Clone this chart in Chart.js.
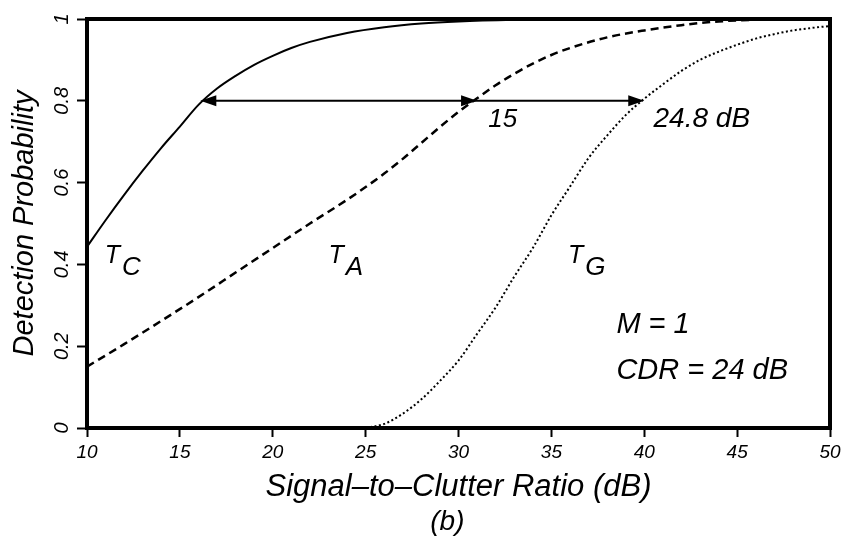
<!DOCTYPE html>
<html>
<head>
<meta charset="utf-8">
<script src="https://cdn.jsdelivr.net/npm/chart.js@4/dist/chart.umd.min.js"></script>
<style>
  html, body { margin:0; padding:0; background:#fff; }
</style>
</head>
<body>
<canvas id="pd" width="847" height="538"></canvas>
<script>
// detection probability vs signal-to-clutter ratio, M = 1, CDR = 24 dB
const snrTC = [10, 11, 12, 13, 14, 15, 16, 17, 18, 19, 20, 21, 22, 24, 26, 28, 30, 33, 36, 40, 45, 50];
const pdTC  = [0.443, 0.508, 0.57, 0.629, 0.685, 0.737, 0.79, 0.83, 0.861, 0.888, 0.91, 0.929, 0.944, 0.966, 0.98, 0.989, 0.994, 0.998, 1, 1, 1, 1];

const snrTA = [10, 12, 14, 16, 18, 20, 22, 24, 25, 26, 27, 28, 29, 30, 31, 32, 33, 34, 35, 36, 38, 40, 42, 44, 46, 48, 50];
const pdTA  = [0.15, 0.205, 0.262, 0.32, 0.38, 0.44, 0.5, 0.558, 0.589, 0.622, 0.658, 0.697, 0.736, 0.773, 0.806, 0.838, 0.866, 0.891, 0.912, 0.929, 0.955, 0.972, 0.985, 0.994, 0.998, 1, 1];

const snrTG = [25, 26, 27, 28, 29, 30, 31, 32, 33, 34, 35, 36, 37, 38, 39, 40, 41, 42, 43, 44, 45, 46, 47, 48, 49, 50];
const pdTG  = [0, 0.01, 0.035, 0.07, 0.115, 0.165, 0.23, 0.295, 0.37, 0.44, 0.52, 0.59, 0.66, 0.715, 0.765, 0.805, 0.84, 0.873, 0.9, 0.92, 0.937, 0.952, 0.963, 0.972, 0.978, 0.983];

const xTicks = [10, 15, 20, 25, 30, 35, 40, 45, 50];
const yTicks = [0, 0.2, 0.4, 0.6, 0.8, 1];

// horizontal gain arrow at Pd = 0.8: T_C -> T_A -> T_G
const arrowPd = 0.8;
const arrowSnr = [16.1, 31, 40];

const FONT = '"Liberation Sans", Arial, sans-serif';
const pts = (xs, ys) => xs.map((x, i) => ({ x, y: ys[i] }));

function arrowHead(ctx, x, y, dir){
  ctx.beginPath();
  ctx.moveTo(x, y);
  ctx.lineTo(x - dir*16, y - 5.5);
  ctx.lineTo(x - dir*16, y + 5.5);
  ctx.closePath();
  ctx.fill();
}

// "T" with a subscript letter, e.g. T_A
function sub(ctx, main, s, x, y){
  ctx.font = 'italic 25px ' + FONT;
  ctx.textAlign = 'left';
  ctx.textBaseline = 'alphabetic';
  ctx.fillText(main, x, y);
  const w = ctx.measureText(main).width;
  ctx.font = 'italic 26px ' + FONT;
  ctx.fillText(s, x + w + 2, y + 12);
}

const extras = {
  id: 'extras',
  afterDatasetsDraw(chart){
    const { ctx, chartArea: a, scales: { x, y } } = chart;
    ctx.save();
    ctx.fillStyle = '#000';
    ctx.strokeStyle = '#000';

    // frame
    ctx.lineWidth = 4;
    ctx.strokeRect(a.left, a.top, a.right - a.left, a.bottom - a.top);

    // arrows
    const ay = y.getPixelForValue(arrowPd);
    const ax = arrowSnr.map(v => x.getPixelForValue(v));
    ctx.lineWidth = 2;
    ctx.beginPath();
    ctx.moveTo(ax[0] + 4, ay);
    ctx.lineTo(ax[2] - 4, ay);
    ctx.stroke();
    arrowHead(ctx, ax[0], ay, -1);
    arrowHead(ctx, ax[1], ay, 1);
    arrowHead(ctx, ax[2], ay, 1);

    // y tick labels, rotated
    ctx.font = 'italic 20px ' + FONT;
    ctx.textAlign = 'center';
    ctx.textBaseline = 'middle';
    y.ticks.forEach(t => {
      ctx.save();
      ctx.translate(62, y.getPixelForValue(t.value));
      ctx.rotate(-Math.PI / 2);
      ctx.fillText(String(t.value), 0, 0);
      ctx.restore();
    });

    // curve names
    sub(ctx, 'T', 'C', x.getPixelForValue(10.95), y.getPixelForValue(0.404));
    sub(ctx, 'T', 'A', x.getPixelForValue(23.0), y.getPixelForValue(0.404));
    sub(ctx, 'T', 'G', x.getPixelForValue(35.9), y.getPixelForValue(0.404));

    ctx.font = 'italic 26px ' + FONT;
    ctx.textAlign = 'left';
    ctx.textBaseline = 'alphabetic';
    ctx.fillText('15', x.getPixelForValue(31.6), y.getPixelForValue(0.735));
    ctx.font = 'italic 28px ' + FONT;
    ctx.fillText('24.8 dB', x.getPixelForValue(40.5), y.getPixelForValue(0.735));
    ctx.font = 'italic 29px ' + FONT;
    ctx.fillText('M = 1', x.getPixelForValue(38.5), y.getPixelForValue(0.232));
    ctx.fillText('CDR = 24 dB', x.getPixelForValue(38.5), y.getPixelForValue(0.12));

    ctx.font = 'italic 28px ' + FONT;
    ctx.textAlign = 'center';
    ctx.fillText('(b)', x.getPixelForValue(29.4), 530);
    ctx.restore();
  }
};

new Chart(document.getElementById('pd'), {
  type: 'line',
  data: {
    datasets: [
      { label: 'T_C', data: pts(snrTC, pdTC), borderColor: '#000', borderWidth: 2, pointRadius: 0, cubicInterpolationMode: 'monotone', fill: false },
      { label: 'T_A', data: pts(snrTA, pdTA), borderColor: '#000', borderWidth: 2.5, borderDash: [8, 5], pointRadius: 0, cubicInterpolationMode: 'monotone', fill: false },
      { label: 'T_G', data: pts(snrTG, pdTG), borderColor: '#000', borderWidth: 2, borderDash: [2, 2.5], pointRadius: 0, cubicInterpolationMode: 'monotone', fill: false }
    ]
  },
  options: {
    responsive: false,
    animation: false,
    layout: { padding: { top: 19, right: 17, left: 0, bottom: 0 } },
    plugins: { legend: { display: false }, tooltip: { enabled: false } },
    scales: {
      x: {
        type: 'linear', min: 10, max: 50,
        afterBuildTicks: s => { s.ticks = xTicks.map(v => ({ value: v })); },
        afterFit: s => { s.height = 110; },
        border: { display: false },
        grid: { drawOnChartArea: false, drawTicks: true, tickLength: 9, tickWidth: 2, tickColor: '#000' },
        ticks: { color: '#000', padding: 4, maxRotation: 0, font: { family: FONT, size: 19, style: 'italic' } },
        title: { display: true, text: 'Signal\u2013to\u2013Clutter Ratio (dB)', color: '#000', padding: { top: 2, bottom: 32 }, font: { family: FONT, size: 31, style: 'italic' } }
      },
      y: {
        type: 'linear', min: 0, max: 1,
        afterBuildTicks: s => { s.ticks = yTicks.map(v => ({ value: v })); },
        afterFit: s => { s.width = 87; },
        border: { display: false },
        grid: { drawOnChartArea: false, drawTicks: true, tickLength: 10, tickWidth: 2, tickColor: '#000' },
        ticks: { display: false },
        title: { display: true, text: 'Detection Probability', color: '#000', padding: { top: 8, bottom: 0 }, font: { family: FONT, size: 29, style: 'italic' } }
      }
    }
  },
  plugins: [extras]
});
</script>
</body>
</html>
